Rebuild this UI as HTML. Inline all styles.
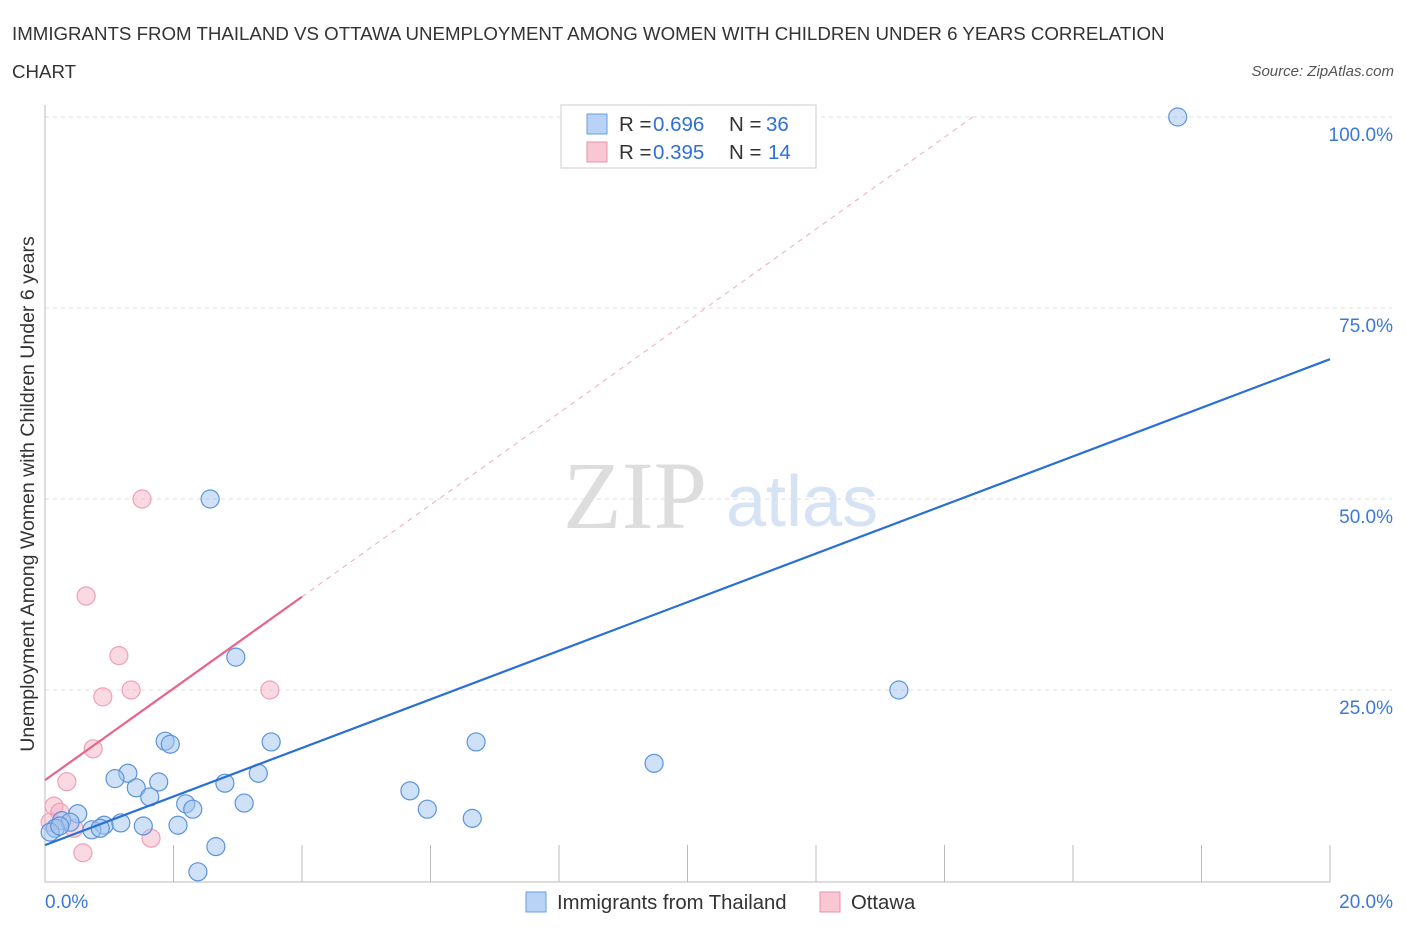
<!DOCTYPE html>
<html><head><meta charset="utf-8"><style>
body{margin:0;background:#fff;font-family:"Liberation Sans",sans-serif;}
</style></head><body>
<svg width="1406" height="930" id="chart" style="font-family:'Liberation Sans',sans-serif">
<text x="12" y="40" font-size="18.7" fill="#333">IMMIGRANTS FROM THAILAND VS OTTAWA UNEMPLOYMENT AMONG WOMEN WITH CHILDREN UNDER 6 YEARS CORRELATION</text>
<text x="12" y="78" font-size="18.7" fill="#333">CHART</text>
<text x="1394" y="76" font-size="15" fill="#555" font-style="italic" text-anchor="end">Source: ZipAtlas.com</text>
<text x="635" y="528" font-size="96" fill="#ddd" style="font-family:'Liberation Serif',serif" text-anchor="middle">ZIP</text>
<text x="802" y="526" font-size="72" fill="#d5e3f5" text-anchor="middle">atlas</text>
<text transform="translate(34,494) rotate(-90)" font-size="19.5" fill="#333" text-anchor="middle">Unemployment Among Women with Children Under 6 years</text>
<g id="grid"></g><g id="marks"></g>
<g>
<rect x="561" y="105" width="255" height="63" fill="#fff" stroke="#ccc"/>
<rect x="587" y="114" width="20" height="20" fill="#b8d3f5" stroke="#6a9ee0"/>
<rect x="587" y="142" width="20" height="20" fill="#f9c6d4" stroke="#e890aa"/>
<text x="619" y="131" font-size="20.5" fill="#333">R =</text>
<text x="653" y="131" font-size="20.5" fill="#2f6fd6">0.696</text>
<text x="729" y="131" font-size="20.5" fill="#333">N =</text>
<text x="766" y="131" font-size="20.5" fill="#2f6fd6">36</text>
<text x="619" y="159" font-size="20.5" fill="#333">R =</text>
<text x="653" y="159" font-size="20.5" fill="#2f6fd6">0.395</text>
<text x="729" y="159" font-size="20.5" fill="#333">N =</text>
<text x="768" y="159" font-size="20.5" fill="#2f6fd6">14</text>
</g>
<g>
<rect x="526" y="892" width="20" height="20" fill="#b8d3f5" stroke="#6a9ee0"/>
<text x="557" y="909" font-size="20.3" fill="#333">Immigrants from Thailand</text>
<rect x="820" y="892" width="20" height="20" fill="#f9c6d4" stroke="#e890aa"/>
<text x="851" y="909" font-size="20.3" fill="#333">Ottawa</text>
</g>
</svg>
<script>
const blueX=[17.63,2.57,2.97,13.29,6.71,3.52,1.87,1.95,9.48,1.29,3.32,1.09,1.77,2.80,1.42,5.68,1.63,2.19,3.10,5.95,2.30,0.51,6.65,0.26,0.92,1.18,0.39,1.53,2.07,0.73,0.86,0.16,0.08,2.66,2.38,0.23];
const blueY=[100,50,29.3,25,18.2,18.2,18.3,17.9,15.4,14.1,14.1,13.4,12.96,12.8,12.2,11.8,11.0,10.1,10.2,9.4,9.4,8.8,8.2,7.9,7.3,7.6,7.7,7.2,7.3,6.7,6.9,6.9,6.4,4.5,1.2,7.2];
const pinkX=[1.51,0.64,1.15,0.90,1.34,3.50,0.75,0.34,0.14,0.23,0.45,0.08,1.65,0.59];
const pinkY=[50,37.3,29.5,24.1,25,25,17.3,13,9.8,9.0,6.9,7.7,5.6,3.7];
const yTicks=[25,50,75,100];
const yTickLabels=["25.0%","50.0%","75.0%","100.0%"];
const blueTrend=[[0,4.7],[20,68.3]];
const pinkTrend=[[0,13.2],[4.0,37.2]];
const pinkDash=[[4.0,37.2],[14.44,100]];
const NS="http://www.w3.org/2000/svg";
const X=v=>45+v/20*1285, Y=v=>881-v/100*764;
function mk(tag,at,parent){const e=document.createElementNS(NS,tag);for(const k in at)e.setAttribute(k,at[k]);parent.appendChild(e);return e;}
const g=document.getElementById('grid'), m=document.getElementById('marks');
yTicks.forEach((t,i)=>{
 const l=mk('line',{x1:45,x2:1392,y1:Y(t),y2:Y(t),stroke:'#ddd','stroke-dasharray':'4,4'},g);
 
 
 const tx=mk('text',{x:1393,y:Y(t)+24,'font-size':19,fill:'#3b78d8','text-anchor':'end'},g);
 tx.textContent=yTickLabels[i];
 
 
});
mk('line',{x1:45,x2:45,y1:105,y2:882,stroke:'#bbb'},g);
mk('line',{x1:45,x2:1330,y1:882,y2:882,stroke:'#bbb'},g);
for(let k=1;k<=10;k++){const t=mk('line',{x1:X(k*2),x2:X(k*2),y1:845,y2:882,stroke:'#bbb'},g);
 
 }
const xl=mk('text',{x:45,y:908,'font-size':19,fill:'#3b78d8'},g);xl.textContent='0.0%';


const xr=mk('text',{x:1393,y:908,'font-size':19,fill:'#3b78d8','text-anchor':'end'},g);xr.textContent='20.0%';


pinkX.forEach((x,i)=>{const c=mk('circle',{cx:X(x),cy:Y(pinkY[i]),r:9,fill:'rgba(246,170,192,0.45)',stroke:'#eea0b6','stroke-width':1.2},m);
 
 });
blueX.forEach((x,i)=>{const c=mk('circle',{cx:X(x),cy:Y(blueY[i]),r:9,fill:'rgba(160,196,240,0.5)',stroke:'#5b93dc','stroke-width':1.2},m);
 
 });
const bl=mk('line',{x1:X(blueTrend[0][0]),y1:Y(blueTrend[0][1]),x2:X(blueTrend[1][0]),y2:Y(blueTrend[1][1]),stroke:'#2a6fd6','stroke-width':2.2},m);


const pl=mk('line',{x1:X(pinkTrend[0][0]),y1:Y(pinkTrend[0][1]),x2:X(pinkTrend[1][0]),y2:Y(pinkTrend[1][1]),stroke:'#e8638a','stroke-width':2.2},m);


const pd=mk('line',{x1:X(pinkDash[0][0]),y1:Y(pinkDash[0][1]),x2:X(pinkDash[1][0]),y2:Y(pinkDash[1][1]),stroke:'#eeaabb','stroke-width':1,'stroke-dasharray':'5,5'},m);


</script>
</body></html>
